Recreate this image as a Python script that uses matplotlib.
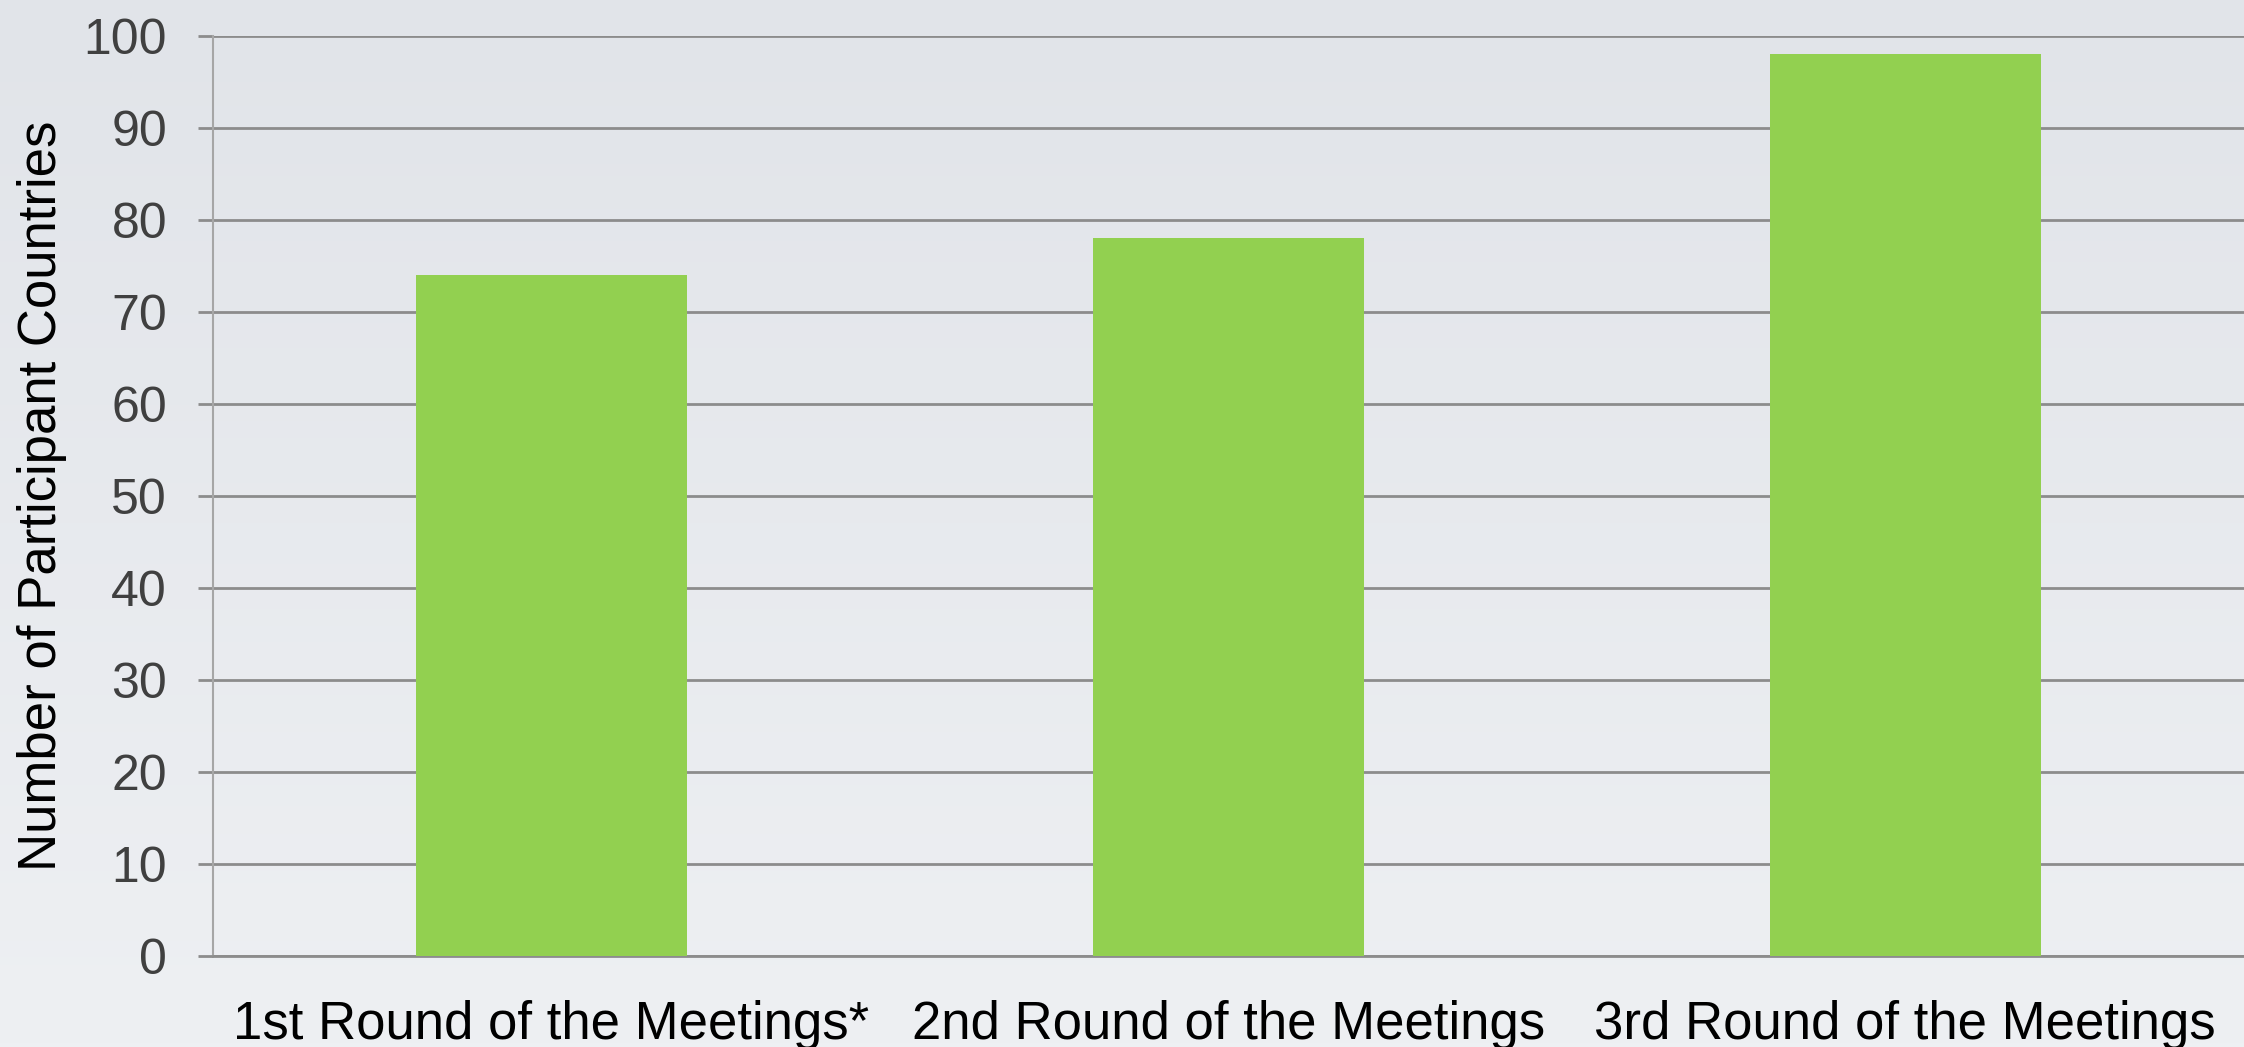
import numpy as np
import matplotlib.pyplot as plt

rounds = ['1st Round of the Meetings*', '2nd Round of the Meetings', '3rd Round of the Meetings']
countries = [74, 78, 98]

plt.rcParams['font.family'] = ['Liberation Sans', 'DejaVu Sans']

fig = plt.figure(figsize=(22.44, 10.47), dpi=100)

# soft slide-like background gradient
bg = fig.add_axes([0, 0, 1, 1], zorder=-10)
grad = np.linspace(0, 1, 256).reshape(-1, 1)
bg.imshow(grad, aspect='auto', extent=[0, 1, 0, 1], origin='upper',
          cmap=plt.matplotlib.colors.LinearSegmentedColormap.from_list(
              'bg', ['#e1e4e9', '#eef0f3']))
bg.axis('off')

ax = fig.add_axes([0.0949, 0.0869, 0.905, 0.8787])
ax.patch.set_alpha(0)

x = np.arange(len(rounds))
ax.bar(x, countries, width=0.4, color='#92d050', zorder=3)

ax.set_xlim(-0.5, 2.5)
ax.set_ylim(0, 100)
ax.set_yticks(range(0, 101, 10))
ax.yaxis.grid(True, color='#8c8c8c', linewidth=2, zorder=1)
ax.set_axisbelow(True)

for s in ['top', 'right']:
    ax.spines[s].set_visible(False)
ax.spines['left'].set_color('#a6a6a6')
ax.spines['left'].set_linewidth(1.5)
ax.spines['bottom'].set_color('#8c8c8c')
ax.spines['bottom'].set_linewidth(2)

ax.tick_params(axis='y', length=11, width=2, color='#8c8c8c',
               labelsize=36, labelcolor='#404040', pad=22)
ax.tick_params(axis='x', length=0, labelsize=38, labelcolor='black', pad=32)
ax.set_xticks(x)
ax.set_xticklabels(rounds)

ax.set_ylabel('Number of Participant Countries', fontsize=38, color='black', labelpad=12)

fig.savefig('out.png', dpi=100)
